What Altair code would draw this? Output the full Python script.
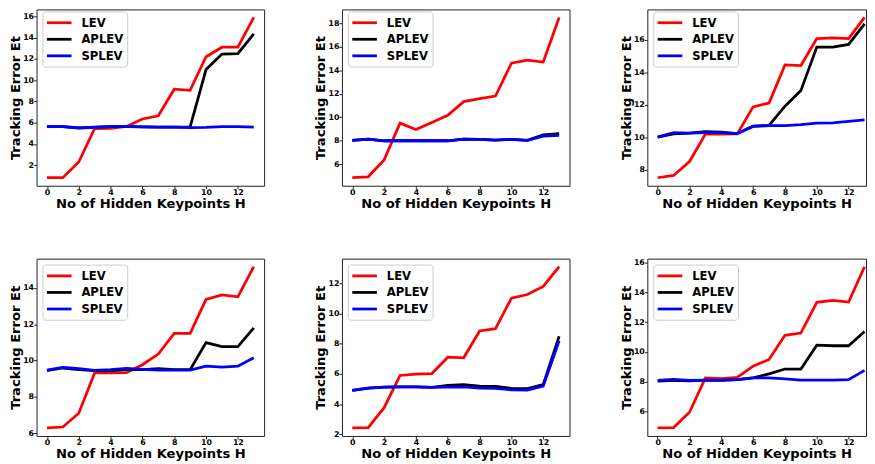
import altair as alt
import pandas as pd

H = list(range(14))
METHODS = ["LEV", "APLEV", "SPLEV"]
COLORS = ["#ff0000", "#000000", "#0000ff"]

# panel 1 (top left)
p1_lev = [0.82, 0.82, 2.3, 5.45, 5.47, 5.65, 6.35, 6.65, 9.15, 9.05, 12.2, 13.1, 13.1, 15.9]
p1_aplev = [5.62, 5.62, 5.52, 5.57, 5.63, 5.63, 5.6, 5.58, 5.58, 5.6, 11.0, 12.45, 12.5, 14.35]
p1_splev = [5.62, 5.62, 5.5, 5.57, 5.65, 5.65, 5.6, 5.58, 5.58, 5.53, 5.55, 5.63, 5.63, 5.58]
p1_yticks = [2, 4, 6, 8, 10, 12, 14, 16]

# panel 2 (top middle)
p2_lev = [4.85, 4.93, 6.37, 9.5, 8.95, 9.55, 10.17, 11.33, 11.58, 11.8, 14.6, 14.87, 14.7, 18.5]
p2_aplev = [8.03, 8.14, 8.0, 8.0, 8.0, 8.0, 8.0, 8.14, 8.12, 8.05, 8.12, 8.03, 8.5, 8.6]
p2_splev = [8.03, 8.14, 8.0, 8.0, 8.0, 8.0, 8.0, 8.14, 8.12, 8.05, 8.12, 8.03, 8.4, 8.45]
p2_yticks = [6, 8, 10, 12, 14, 16, 18]

# panel 3 (top right)
p3_lev = [7.5, 7.64, 8.5, 10.18, 10.18, 10.2, 11.86, 12.1, 14.44, 14.4, 16.06, 16.1, 16.06, 17.36]
p3_aplev = [10.0, 10.2, 10.25, 10.34, 10.3, 10.22, 10.68, 10.72, 11.9, 12.86, 15.54, 15.54, 15.7, 16.96]
p3_splev = [10.0, 10.28, 10.25, 10.28, 10.27, 10.22, 10.66, 10.7, 10.7, 10.76, 10.86, 10.87, 10.96, 11.06]
p3_yticks = [8, 10, 12, 14, 16]

# panel 4 (bottom left)
p4_lev = [6.29, 6.34, 7.1, 9.32, 9.32, 9.33, 9.77, 10.36, 11.5, 11.5, 13.37, 13.62, 13.51, 15.17]
p4_aplev = [9.45, 9.59, 9.5, 9.45, 9.45, 9.5, 9.5, 9.55, 9.5, 9.5, 10.99, 10.77, 10.77, 11.8]
p4_splev = [9.48, 9.62, 9.55, 9.46, 9.5, 9.57, 9.52, 9.47, 9.48, 9.48, 9.69, 9.64, 9.69, 10.16]
p4_yticks = [6, 8, 10, 12, 14]

# panel 5 (bottom middle)
p5_lev = [2.43, 2.45, 3.77, 5.9, 5.99, 6.03, 7.11, 7.07, 8.85, 9.0, 11.02, 11.26, 11.8, 13.1]
p5_aplev = [4.92, 5.07, 5.13, 5.15, 5.15, 5.12, 5.25, 5.29, 5.2, 5.18, 5.05, 5.03, 5.3, 8.5]
p5_splev = [4.92, 5.07, 5.13, 5.15, 5.15, 5.12, 5.13, 5.15, 5.07, 5.05, 4.95, 4.93, 5.2, 8.2]
p5_yticks = [2, 4, 6, 8, 10, 12]

# panel 6 (bottom right)
p6_lev = [4.91, 4.93, 5.96, 8.27, 8.22, 8.3, 9.05, 9.5, 11.12, 11.27, 13.33, 13.46, 13.35, 15.72]
p6_aplev = [8.05, 8.1, 8.07, 8.1, 8.1, 8.15, 8.27, 8.53, 8.86, 8.86, 10.46, 10.42, 10.42, 11.38]
p6_splev = [8.09, 8.17, 8.1, 8.12, 8.12, 8.15, 8.26, 8.26, 8.2, 8.12, 8.12, 8.12, 8.14, 8.77]
p6_yticks = [6, 8, 10, 12, 14, 16]

x_ticks = [0, 2, 4, 6, 8, 10, 12]
X_TITLE = "No of Hidden Keypoints H"
Y_TITLE = "Tracking Error Et"

FONT = "DejaVu Sans"
PW = 231          # full panel width
PW_CUT = 222      # right-hand panels are cut off by the figure edge
TOP_H, BOT_H = 179, 180


def panel(lev, aplev, splev, yticks, width, height, legend_y):
    rows = []
    for m, vals in zip(METHODS, [lev, aplev, splev]):
        for h, v in zip(H, vals):
            rows.append({"H": h, "value": v, "method": m})
    df = pd.DataFrame(rows)
    allv = lev + aplev + splev
    lo, hi = min(allv), max(allv)
    pad = (hi - lo) * 0.05
    ydom = [lo - pad, hi + pad]
    xpad = (max(H) - min(H)) * 0.05
    span = (max(H) - min(H)) + 2 * xpad
    xdom = [min(H) - xpad, min(H) - xpad + span * width / PW]
    base = alt.Chart(df).mark_line(strokeWidth=2.8, clip=True).encode(
        x=alt.X("H:Q", scale=alt.Scale(domain=xdom, nice=False, zero=False),
                axis=alt.Axis(values=x_ticks, title=X_TITLE, format="d")),
        y=alt.Y("value:Q", scale=alt.Scale(domain=ydom, nice=False, zero=False),
                axis=alt.Axis(values=yticks, title=Y_TITLE, format="d")),
        color=alt.Color("method:N",
                        scale=alt.Scale(domain=METHODS, range=COLORS),
                        legend=alt.Legend(title=None, orient="none",
                                          legendX=6, legendY=legend_y)),
    )
    layers = [base.transform_filter(alt.datum.method == m) for m in METHODS]
    return alt.layer(*layers).properties(width=width, height=height)


top = alt.hconcat(
    panel(p1_lev, p1_aplev, p1_splev, p1_yticks, PW, TOP_H, 2),
    panel(p2_lev, p2_aplev, p2_splev, p2_yticks, PW, TOP_H, 2),
    panel(p3_lev, p3_aplev, p3_splev, p3_yticks, PW_CUT, TOP_H, 2),
    spacing=48,
).resolve_scale(color="independent", y="independent")

bottom = alt.hconcat(
    panel(p4_lev, p4_aplev, p4_splev, p4_yticks, PW, BOT_H, 6),
    panel(p5_lev, p5_aplev, p5_splev, p5_yticks, PW, BOT_H, 6),
    panel(p6_lev, p6_aplev, p6_splev, p6_yticks, PW_CUT, BOT_H, 6),
    spacing=48,
).resolve_scale(color="independent", y="independent")

chart = alt.vconcat(top, bottom, spacing=48).resolve_scale(
    color="independent"
).properties(
    padding={"left": -1, "top": -3, "right": 0, "bottom": 0}
).configure_view(
    stroke="#222222", strokeWidth=1
).configure_axis(
    labelFont=FONT, labelFontWeight="bold", labelFontSize=8, labelColor="#000000",
    titleFont=FONT, titleFontWeight="bold", titleFontSize=13.3, titleColor="#000000",
    tickColor="#222222", tickSize=3, tickWidth=1, domain=False, grid=False,
    labelPadding=0,
).configure_axisX(
    titlePadding=0
).configure_axisY(
    titlePadding=0.4
).configure_legend(
    padding=4, strokeColor="#cccccc", cornerRadius=3, fillColor="#ffffff",
    labelFont=FONT, labelFontWeight="bold", labelFontSize=11.8, labelColor="#000000",
    symbolType="M-1.1667,0H3", symbolSize=144, symbolStrokeWidth=2.8, rowPadding=1.8,
    labelOffset=20.5,
)

chart.save("out.html", embed_options={"renderer": "svg", "actions": False})
